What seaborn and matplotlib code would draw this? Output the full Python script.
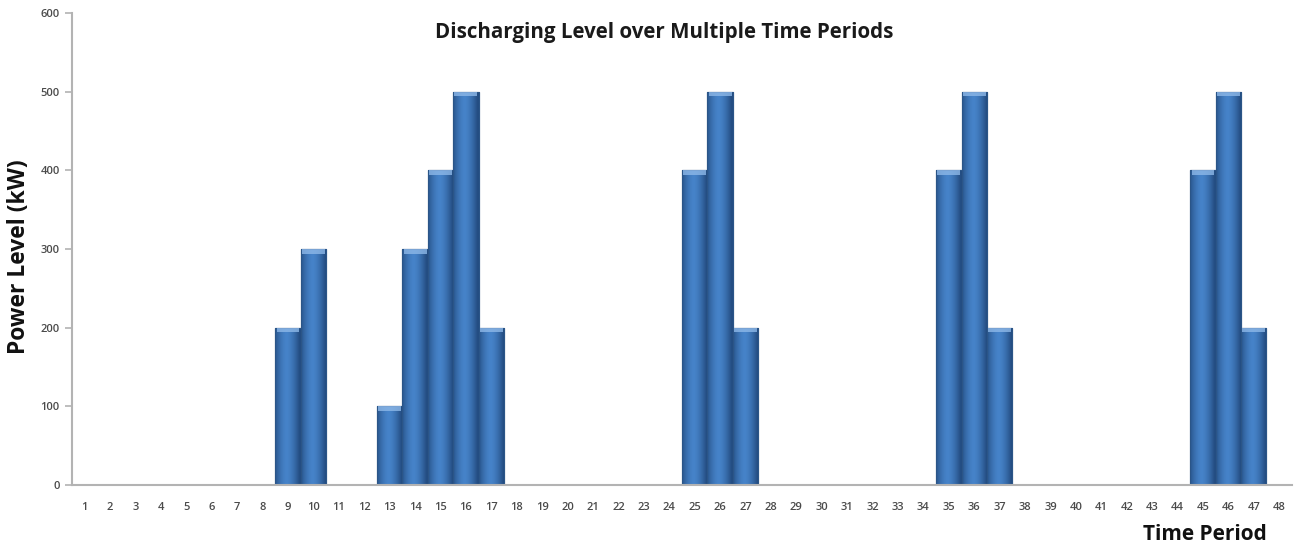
import numpy as np
import pandas as pd
import matplotlib
matplotlib.use("Agg")
import matplotlib.pyplot as plt
import seaborn as sns
from matplotlib.colors import LinearSegmentedColormap

periods = list(range(1, 49))
power = [0, 0, 0, 0, 0, 0, 0, 0, 200, 300, 0, 0, 100, 300, 400, 500, 200, 0,
         0, 0, 0, 0, 0, 0, 400, 500, 200, 0, 0, 0, 0, 0, 0, 0, 400, 500, 200, 0,
         0, 0, 0, 0, 0, 0, 400, 500, 200, 0]
yticks = [0, 100, 200, 300, 400, 500, 600]

df = pd.DataFrame({"period": [str(p) for p in periods], "power": power})

sns.set_theme(style="white")
plt.rcParams['font.family'] = ['Open Sans', 'DejaVu Sans']

fig = plt.figure(figsize=(12.95, 5.47), dpi=100)
ax = fig.add_axes([0.0556, 0.1133, 0.942, 0.8627])

sns.barplot(data=df, x="period", y="power", ax=ax, width=1.0, color="#3d73b6",
            saturation=1, edgecolor="#2b5587", linewidth=0.8)

# gradient shading to mimic the cylinder-like bars
grad = np.linspace(0, 1, 64)
shade = 1 - 0.45 * (np.abs(grad - 0.45) * 2) ** 1.6
cmap = LinearSegmentedColormap.from_list("b", ["#244d82", "#4683c9"])
for p in ax.patches:
    h = p.get_height()
    if h <= 0:
        continue
    x0, w = p.get_x(), p.get_width()
    im = ax.imshow(shade[np.newaxis, :], cmap=cmap, vmin=0.55, vmax=1.0,
                   extent=[x0, x0 + w, 0, h], aspect="auto", zorder=p.get_zorder() + 0.1,
                   interpolation="bicubic")
    im.set_clip_path(p)
    ax.add_patch(plt.Rectangle((x0, 0), w, h, fill=False, edgecolor="#2b5587",
                               linewidth=0.8, zorder=p.get_zorder() + 0.2))
    cap = plt.Rectangle((x0 + w * 0.05, h - 6), w * 0.9, 6, facecolor="#8db8e8",
                        edgecolor="none", alpha=0.8, zorder=p.get_zorder() + 0.3)
    ax.add_patch(cap)

ax.set_xlim(-0.5, len(periods) - 0.5)
ax.set_ylim(0, 600)
ax.set_yticks(yticks)
ax.set_yticklabels([str(v) for v in yticks])
ax.set_xlabel("")
ax.set_ylabel("")

for s in ["top", "right"]:
    ax.spines[s].set_visible(False)
for s in ["left", "bottom"]:
    ax.spines[s].set_color("#b3b3b3")
    ax.spines[s].set_linewidth(1.5)

ax.tick_params(axis="y", which="both", left=True, length=5, width=1.2, color="#b3b3b3",
               labelsize=8, labelcolor="#4a4a4a", pad=4)
ax.tick_params(axis="x", bottom=False, labelsize=8, labelcolor="#4a4a4a", pad=6)
for t in ax.get_xticklabels() + ax.get_yticklabels():
    t.set_fontweight("semibold")

fig.text(0.513, 0.941, "Discharging Level over Multiple Time Periods", ha="center",
         va="center", fontsize=14.8, fontweight="bold", color="#1a1a1a")
fig.text(0.015, 0.53, "Power Level (kW)", rotation=90, ha="center", va="center",
         fontsize=16.5, fontweight="bold", color="#111111")
fig.text(0.978, 0.022, "Time Period", ha="right", va="center",
         fontsize=15, fontweight="bold", color="#111111")

fig.savefig("out.png", dpi=100)
